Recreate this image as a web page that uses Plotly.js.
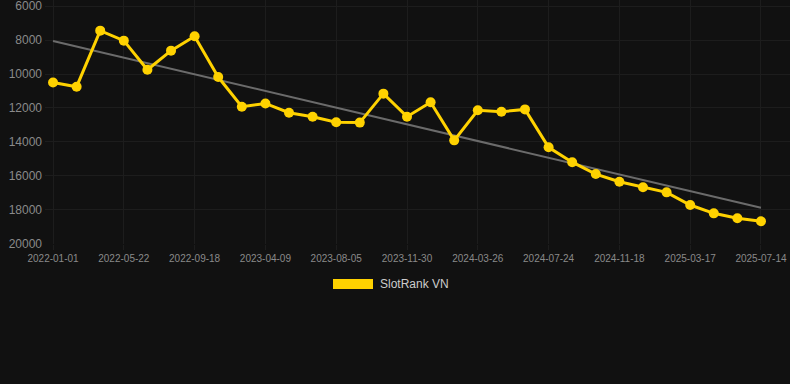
<!DOCTYPE html>
<html>
<head>
<meta charset="utf-8">
<script src="https://cdn.plot.ly/plotly-3.0.1.min.js"></script>
<style>
html,body{margin:0;padding:0;background:#111111;}
#chart{width:790px;height:384px;}
</style>
</head>
<body>
<div id="chart"></div>
<script>
const dates = [
  "2022-01-01","2022-02-17","2022-04-05","2022-05-22","2022-07-01","2022-08-10",
  "2022-09-18","2022-11-24","2023-01-31","2023-04-09","2023-05-18","2023-06-26",
  "2023-08-05","2023-09-13","2023-10-22","2023-11-30","2024-01-08","2024-02-16",
  "2024-03-26","2024-05-05","2024-06-14","2024-07-24","2024-09-01","2024-10-10",
  "2024-11-18","2024-12-27","2025-02-05","2025-03-17","2025-04-25","2025-06-04",
  "2025-07-14"
];
const ranks = [
  10500, 10750, 7440, 8030, 9750, 8620,
  7770, 10180, 11930, 11740, 12290, 12520,
  12850, 12870, 11160, 12520, 11670, 13920,
  12140, 12230, 12090, 14330, 15210, 15910,
  16360, 16690, 16990, 17740, 18230, 18520,
  18700
];
const trendDates = ["2022-01-01", "2025-07-14"];
const trendValues = [8050, 17900];
const tickLabels = ["2022-01-01","2022-05-22","2022-09-18","2023-04-09","2023-08-05",
  "2023-11-30","2024-03-26","2024-07-24","2024-11-18","2025-03-17","2025-07-14"];
const yTicks = [6000, 8000, 10000, 12000, 14000, 16000, 18000, 20000];
const seriesName = "SlotRank VN";

const traces = [
  {
    x: trendDates, y: trendValues, type: "scatter", mode: "lines",
    line: {color: "#6b6b6b", width: 2}, showlegend: false, hoverinfo: "skip"
  },
  {
    x: dates, y: ranks, type: "scatter", mode: "lines+markers", name: seriesName,
    line: {color: "#FFD200", width: 3},
    marker: {color: "#FFD200", size: 10},
    showlegend: false
  }
];

const PH = 244; // plot height in px
const PW = 745; // plot width in px
const layout = {
  width: 790, height: 384,
  paper_bgcolor: "#111111", plot_bgcolor: "#111111",
  margin: {l: 45, r: 0, t: 0, b: 140},
  font: {family: "Arial, Liberation Sans, sans-serif", color: "#888888"},
  xaxis: {
    type: "category",
    categoryorder: "array", categoryarray: dates,
    range: [-0.34, 31.23],
    tickmode: "array", tickvals: tickLabels, ticktext: tickLabels,
    tickfont: {size: 10, color: "#8a8a8a"},
    showgrid: true, gridcolor: "#1d1d1d", gridwidth: 1,
    ticks: "outside", ticklen: 5, tickcolor: "#1d1d1d",
    zeroline: false, showline: false, fixedrange: true,
    ticklabeloverflow: "allow"
  },
  yaxis: {
    range: [20041, 5629],
    tickmode: "array",
    tickvals: yTicks, ticktext: yTicks.map(String),
    tickfont: {size: 12, color: "#8a8a8a"},
    showgrid: true, gridcolor: "#1d1d1d", gridwidth: 1,
    zeroline: false, showline: false, ticks: "", ticklabelstandoff: 2, fixedrange: true,
    ticklabeloverflow: "allow"
  },
  showlegend: false,
  shapes: [
    {type: "rect", xref: "paper", yref: "paper",
     x0: (333 - 45) / PW, x1: (373 - 45) / PW,
     y0: (PH - 289) / PH, y1: (PH - 279) / PH,
     fillcolor: "#FFD200", line: {width: 0}}
  ],
  annotations: [
    {xref: "paper", yref: "paper", x: (378 - 45) / PW, xanchor: "left",
     y: (PH - 284) / PH, yanchor: "middle", showarrow: false,
     text: seriesName, font: {size: 12, color: "#cccccc"}}
  ]
};

Plotly.newPlot("chart", traces, layout, {displayModeBar: false, staticPlot: true});
</script>
</body>
</html>
